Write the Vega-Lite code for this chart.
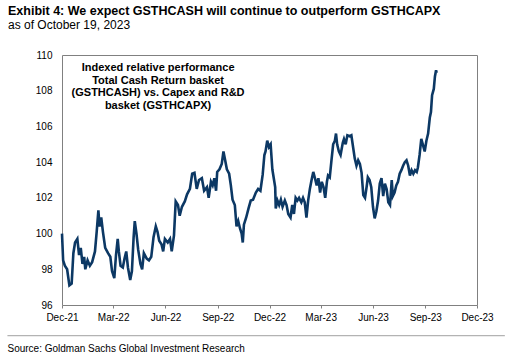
{
  "$schema": "https://vega.github.io/schema/vega-lite/v6.json",
  "width": 415,
  "height": 250,
  "autosize": {"type": "none"},
  "padding": {"left": 62, "top": 55, "right": 28, "bottom": 56},
  "background": "white",
  "config": {
    "font": "Liberation Sans",
    "view": {"stroke": "#808080", "strokeWidth": 1},
    "axisY": {
      "labelOverlap": false,
      "labelFlush": false,
      "labelFontSize": 10,
      "labelColor": "#000000",
      "labelPadding": 10,
      "ticks": false,
      "domain": false,
      "grid": false,
      "tickCount": 8
    },
    "axisX": {
      "labelOverlap": false,
      "labelFlush": false,
      "grid": false,
      "domain": false
    }
  },
  "title": {
    "text": "Exhibit 4: We expect GSTHCASH will continue to outperform GSTHCAPX",
    "subtitle": "as of October 19, 2023",
    "anchor": "start",
    "frame": "group",
    "dx": -54,
    "offset": 19,
    "font": "Liberation Sans",
    "fontSize": 12.5,
    "fontWeight": "bold",
    "color": "#000000",
    "subtitleFont": "Liberation Sans",
    "subtitleFontSize": 12,
    "subtitleColor": "#000000",
    "subtitlePadding": 3
  },
  "layer": [
    {
      "data": {
        "values": [
          {"date": "2021-12-01", "v": 100.0},
          {"date": "2021-12-03", "v": 98.5},
          {"date": "2021-12-06", "v": 98.2},
          {"date": "2021-12-10", "v": 98.0},
          {"date": "2021-12-14", "v": 97.1},
          {"date": "2021-12-18", "v": 97.2},
          {"date": "2021-12-21", "v": 98.9},
          {"date": "2021-12-24", "v": 99.5},
          {"date": "2021-12-28", "v": 99.7},
          {"date": "2021-12-31", "v": 98.8},
          {"date": "2022-01-03", "v": 99.2},
          {"date": "2022-01-06", "v": 98.3},
          {"date": "2022-01-09", "v": 98.7},
          {"date": "2022-01-11", "v": 98.0},
          {"date": "2022-01-15", "v": 98.5},
          {"date": "2022-01-19", "v": 98.2},
          {"date": "2022-01-23", "v": 98.4},
          {"date": "2022-01-28", "v": 99.0},
          {"date": "2022-01-31", "v": 100.1},
          {"date": "2022-02-03", "v": 101.3},
          {"date": "2022-02-05", "v": 100.4},
          {"date": "2022-02-08", "v": 100.9},
          {"date": "2022-02-11", "v": 100.1},
          {"date": "2022-02-15", "v": 99.2},
          {"date": "2022-02-20", "v": 98.9},
          {"date": "2022-02-24", "v": 98.7},
          {"date": "2022-02-27", "v": 97.9},
          {"date": "2022-03-03", "v": 97.5},
          {"date": "2022-03-06", "v": 98.8},
          {"date": "2022-03-09", "v": 99.7},
          {"date": "2022-03-11", "v": 99.0},
          {"date": "2022-03-14", "v": 98.2},
          {"date": "2022-03-18", "v": 98.1},
          {"date": "2022-03-21", "v": 98.6},
          {"date": "2022-03-24", "v": 99.0},
          {"date": "2022-03-27", "v": 98.1},
          {"date": "2022-03-31", "v": 97.4},
          {"date": "2022-04-03", "v": 97.9},
          {"date": "2022-04-06", "v": 99.8},
          {"date": "2022-04-08", "v": 100.7},
          {"date": "2022-04-11", "v": 100.0},
          {"date": "2022-04-14", "v": 99.1},
          {"date": "2022-04-18", "v": 98.3},
          {"date": "2022-04-21", "v": 98.0},
          {"date": "2022-04-24", "v": 98.9},
          {"date": "2022-04-29", "v": 98.6},
          {"date": "2022-05-03", "v": 98.5},
          {"date": "2022-05-07", "v": 98.7},
          {"date": "2022-05-11", "v": 99.8},
          {"date": "2022-05-15", "v": 100.4},
          {"date": "2022-05-18", "v": 100.1},
          {"date": "2022-05-21", "v": 99.6},
          {"date": "2022-05-25", "v": 99.4},
          {"date": "2022-05-28", "v": 99.0},
          {"date": "2022-05-31", "v": 99.7},
          {"date": "2022-06-05", "v": 99.5},
          {"date": "2022-06-09", "v": 99.7},
          {"date": "2022-06-12", "v": 99.0},
          {"date": "2022-06-16", "v": 99.9},
          {"date": "2022-06-19", "v": 101.8},
          {"date": "2022-06-23", "v": 101.6},
          {"date": "2022-06-26", "v": 101.0},
          {"date": "2022-06-30", "v": 101.5},
          {"date": "2022-07-05", "v": 101.8},
          {"date": "2022-07-09", "v": 102.2},
          {"date": "2022-07-14", "v": 102.5},
          {"date": "2022-07-18", "v": 103.35},
          {"date": "2022-07-22", "v": 103.4},
          {"date": "2022-07-26", "v": 102.5},
          {"date": "2022-07-30", "v": 103.0},
          {"date": "2022-08-04", "v": 103.1},
          {"date": "2022-08-08", "v": 102.4},
          {"date": "2022-08-13", "v": 102.6},
          {"date": "2022-08-16", "v": 102.0},
          {"date": "2022-08-20", "v": 102.9},
          {"date": "2022-08-23", "v": 102.7},
          {"date": "2022-08-26", "v": 103.1},
          {"date": "2022-08-29", "v": 102.4},
          {"date": "2022-08-31", "v": 103.45},
          {"date": "2022-09-04", "v": 103.6},
          {"date": "2022-09-08", "v": 103.9},
          {"date": "2022-09-11", "v": 104.6},
          {"date": "2022-09-14", "v": 104.1},
          {"date": "2022-09-17", "v": 103.6},
          {"date": "2022-09-21", "v": 103.35},
          {"date": "2022-09-24", "v": 102.7},
          {"date": "2022-09-27", "v": 101.9},
          {"date": "2022-10-01", "v": 101.6},
          {"date": "2022-10-04", "v": 100.4},
          {"date": "2022-10-07", "v": 100.7},
          {"date": "2022-10-10", "v": 100.3},
          {"date": "2022-10-13", "v": 100.0},
          {"date": "2022-10-15", "v": 99.5},
          {"date": "2022-10-17", "v": 100.5},
          {"date": "2022-10-21", "v": 100.9},
          {"date": "2022-10-25", "v": 101.4},
          {"date": "2022-10-29", "v": 101.85},
          {"date": "2022-11-02", "v": 101.9},
          {"date": "2022-11-07", "v": 102.3},
          {"date": "2022-11-11", "v": 102.5},
          {"date": "2022-11-15", "v": 102.4},
          {"date": "2022-11-19", "v": 103.3},
          {"date": "2022-11-22", "v": 104.4},
          {"date": "2022-11-24", "v": 104.6},
          {"date": "2022-11-27", "v": 105.2},
          {"date": "2022-11-30", "v": 104.85},
          {"date": "2022-12-03", "v": 105.0},
          {"date": "2022-12-06", "v": 103.6},
          {"date": "2022-12-09", "v": 103.0},
          {"date": "2022-12-11", "v": 102.6},
          {"date": "2022-12-12", "v": 101.4},
          {"date": "2022-12-15", "v": 101.85},
          {"date": "2022-12-18", "v": 101.6},
          {"date": "2022-12-21", "v": 101.9},
          {"date": "2022-12-24", "v": 101.5},
          {"date": "2022-12-28", "v": 101.85},
          {"date": "2022-12-31", "v": 101.6},
          {"date": "2023-01-03", "v": 101.1},
          {"date": "2023-01-07", "v": 100.9},
          {"date": "2023-01-10", "v": 101.6},
          {"date": "2023-01-13", "v": 101.1},
          {"date": "2023-01-16", "v": 102.0},
          {"date": "2023-01-19", "v": 101.85},
          {"date": "2023-01-22", "v": 102.0},
          {"date": "2023-01-26", "v": 101.75},
          {"date": "2023-01-29", "v": 102.0},
          {"date": "2023-02-01", "v": 101.75},
          {"date": "2023-02-04", "v": 100.9},
          {"date": "2023-02-07", "v": 101.85},
          {"date": "2023-02-10", "v": 102.5},
          {"date": "2023-02-13", "v": 103.0},
          {"date": "2023-02-16", "v": 103.45},
          {"date": "2023-02-19", "v": 103.1},
          {"date": "2023-02-22", "v": 102.7},
          {"date": "2023-02-25", "v": 103.1},
          {"date": "2023-02-28", "v": 102.3},
          {"date": "2023-03-03", "v": 102.9},
          {"date": "2023-03-06", "v": 102.6},
          {"date": "2023-03-09", "v": 102.0},
          {"date": "2023-03-12", "v": 102.9},
          {"date": "2023-03-14", "v": 103.25},
          {"date": "2023-03-17", "v": 103.15},
          {"date": "2023-03-20", "v": 104.1},
          {"date": "2023-03-23", "v": 105.0},
          {"date": "2023-03-26", "v": 105.2},
          {"date": "2023-03-28", "v": 105.6},
          {"date": "2023-03-30", "v": 105.0},
          {"date": "2023-04-02", "v": 104.6},
          {"date": "2023-04-05", "v": 104.4},
          {"date": "2023-04-09", "v": 105.1},
          {"date": "2023-04-11", "v": 105.3},
          {"date": "2023-04-14", "v": 105.0},
          {"date": "2023-04-17", "v": 105.5},
          {"date": "2023-04-21", "v": 105.45},
          {"date": "2023-04-24", "v": 105.5},
          {"date": "2023-04-27", "v": 104.85},
          {"date": "2023-04-30", "v": 104.2},
          {"date": "2023-05-03", "v": 103.8},
          {"date": "2023-05-06", "v": 104.1},
          {"date": "2023-05-09", "v": 103.9},
          {"date": "2023-05-12", "v": 103.4},
          {"date": "2023-05-15", "v": 102.15},
          {"date": "2023-05-18", "v": 102.0},
          {"date": "2023-05-21", "v": 102.65},
          {"date": "2023-05-23", "v": 103.15},
          {"date": "2023-05-26", "v": 103.0},
          {"date": "2023-05-29", "v": 102.6},
          {"date": "2023-06-01", "v": 101.5},
          {"date": "2023-06-04", "v": 100.85},
          {"date": "2023-06-07", "v": 101.25},
          {"date": "2023-06-10", "v": 101.85},
          {"date": "2023-06-13", "v": 102.8},
          {"date": "2023-06-16", "v": 103.1},
          {"date": "2023-06-19", "v": 102.1},
          {"date": "2023-06-22", "v": 102.8},
          {"date": "2023-06-25", "v": 102.5},
          {"date": "2023-06-28", "v": 101.75},
          {"date": "2023-07-01", "v": 101.6},
          {"date": "2023-07-04", "v": 103.0},
          {"date": "2023-07-06", "v": 102.1},
          {"date": "2023-07-09", "v": 102.3},
          {"date": "2023-07-12", "v": 102.7},
          {"date": "2023-07-15", "v": 102.9},
          {"date": "2023-07-18", "v": 103.35},
          {"date": "2023-07-21", "v": 103.55},
          {"date": "2023-07-24", "v": 103.8},
          {"date": "2023-07-27", "v": 104.0},
          {"date": "2023-07-30", "v": 104.1},
          {"date": "2023-08-02", "v": 103.8},
          {"date": "2023-08-05", "v": 103.25},
          {"date": "2023-08-08", "v": 103.55},
          {"date": "2023-08-11", "v": 103.35},
          {"date": "2023-08-14", "v": 103.55},
          {"date": "2023-08-17", "v": 103.45},
          {"date": "2023-08-19", "v": 103.7},
          {"date": "2023-08-22", "v": 104.4},
          {"date": "2023-08-25", "v": 105.3},
          {"date": "2023-08-28", "v": 104.95},
          {"date": "2023-08-31", "v": 104.6},
          {"date": "2023-09-03", "v": 105.2},
          {"date": "2023-09-06", "v": 105.6},
          {"date": "2023-09-09", "v": 106.5},
          {"date": "2023-09-11", "v": 106.8},
          {"date": "2023-09-13", "v": 107.75},
          {"date": "2023-09-16", "v": 108.1},
          {"date": "2023-09-18", "v": 108.8},
          {"date": "2023-09-20", "v": 109.15},
          {"date": "2023-09-21", "v": 109.0}
        ]
      },
      "mark": {"type": "line", "color": "#0c3864", "strokeWidth": 2.6},
      "encoding": {
        "x": {
          "field": "date",
          "type": "temporal",
          "scale": {
            "type": "utc",
            "domain": [
              {"year": 2021, "month": 12, "date": 1, "utc": true},
              {"year": 2023, "month": 12, "date": 1, "utc": true}
            ]
          },
          "axis": {
            "values": [
              {"year": 2021, "month": 12, "date": 1, "utc": true},
              {"year": 2022, "month": 3, "date": 1, "utc": true},
              {"year": 2022, "month": 6, "date": 1, "utc": true},
              {"year": 2022, "month": 9, "date": 1, "utc": true},
              {"year": 2022, "month": 12, "date": 1, "utc": true},
              {"year": 2023, "month": 3, "date": 1, "utc": true},
              {"year": 2023, "month": 6, "date": 1, "utc": true},
              {"year": 2023, "month": 9, "date": 1, "utc": true},
              {"year": 2023, "month": 12, "date": 1, "utc": true}
            ],
            "format": "%b-%y",
            "labelFontSize": 10,
            "labelColor": "#000000",
            "labelFlush": false,
            "labelOverlap": false,
            "labelPadding": 4,
            "tickSize": 3,
            "tickColor": "#808080",
            "domain": false,
            "grid": false,
            "title": "Source: Goldman Sachs Global Investment Research",
            "titleFontSize": 10,
            "titleFontWeight": "normal",
            "titleColor": "#000000",
            "titleAlign": "left",
            "titleBaseline": "middle",
            "titleX": -55,
            "titleY": 43
          }
        },
        "y": {
          "field": "v",
          "type": "quantitative",
          "scale": {"domain": [96, 110], "nice": false, "zero": false},
          "axis": {
            "values": [96, 98, 100, 102, 104, 106, 108, 110],
            "labelOverlap": false,
            "title": null
          }
        }
      }
    },
    {
      "data": {"values": [{"label": "note"}]},
      "mark": {
        "type": "text",
        "text": ["Indexed relative performance", "Total Cash Return basket", "(GSTHCASH) vs. Capex and R&D", "basket (GSTHCAPX)"],
        "font": "Liberation Sans",
        "fontSize": 11,
        "fontWeight": "bold",
        "lineHeight": 12.5,
        "align": "center",
        "baseline": "middle",
        "color": "#000000"
      },
      "encoding": {
        "x": {"datum": {"year": 2022, "month": 5, "date": 19, "utc": true}, "type": "temporal"},
        "y": {"datum": 109.25, "type": "quantitative", "axis": {"values": [96, 98, 100, 102, 104, 106, 108, 110], "labelOverlap": false, "title": null}}
      }
    },
    {
      "data": {"values": [{"label": "separator"}]},
      "mark": {"type": "rule", "color": "#a0a0a0", "strokeWidth": 1},
      "encoding": {
        "x": {"datum": {"year": 2021, "month": 8, "date": 27, "utc": true}, "type": "temporal"},
        "x2": {"datum": {"year": 2024, "month": 1, "date": 19, "utc": true}},
        "y": {"datum": 94.28, "type": "quantitative", "axis": {"values": [96, 98, 100, 102, 104, 106, 108, 110], "labelOverlap": false, "title": null}}
      }
    }
  ]
}
